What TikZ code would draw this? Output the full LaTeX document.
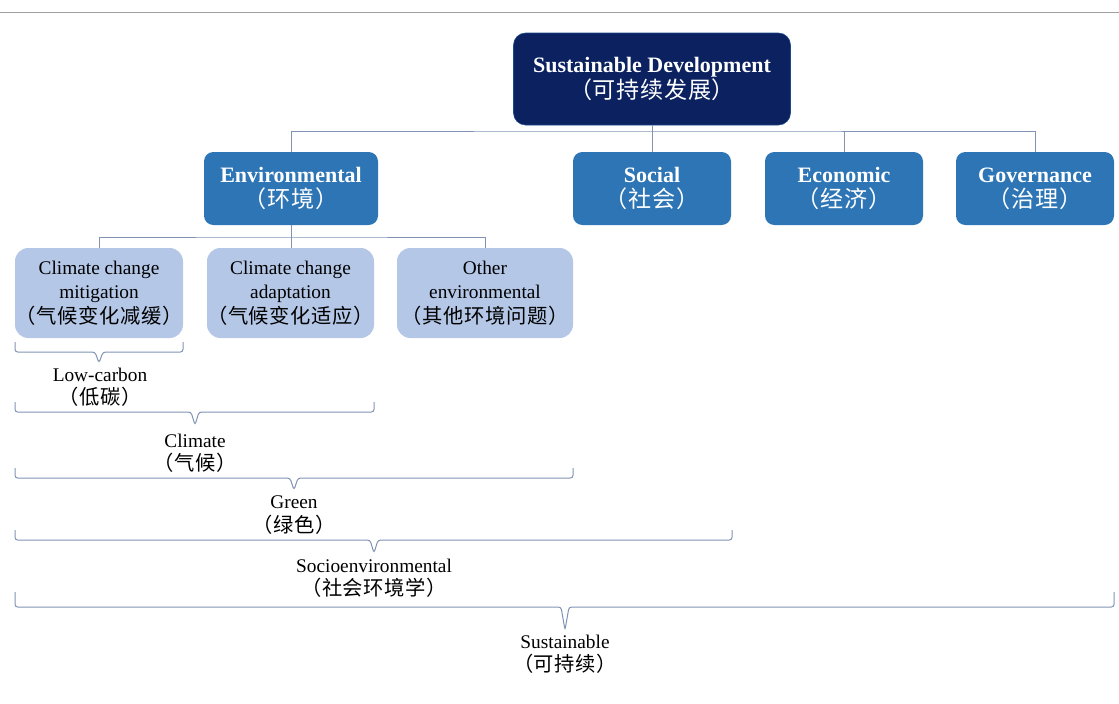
\documentclass[tikz,border=0pt]{standalone}
\usepackage{fontspec}
\setmainfont{Liberation Serif}
\newfontfamily\cjk[Scale=1.05, LetterSpace=3]{Noto Sans CJK SC}
\usetikzlibrary{positioning}

\definecolor{navy}{HTML}{0B2160}
\definecolor{midblue}{HTML}{2E75B6}
\definecolor{paleblue}{HTML}{B4C7E7}
\definecolor{linkgray}{HTML}{8093B3}

\tikzset{
	rootbox/.style={draw=midblue!50!navy, fill=navy, text=white, rounded corners=9pt,
		minimum width=207.75pt, minimum height=69pt, align=center,
		font=\fontsize{16.5}{19}\selectfont\bfseries},
	dimbox/.style={fill=midblue, text=white, rounded corners=7pt, minimum height=54.75pt,
		align=center, font=\fontsize{16.5}{19}\selectfont\bfseries},
	subbox/.style={fill=paleblue, rounded corners=10pt, minimum height=67.5pt,
		inner xsep=0pt, align=center, font=\fontsize{14.5}{18.5}\selectfont},
	link/.style={draw=linkgray, line width=0.75pt},
	brline/.style={draw=linkgray, line width=0.75pt, rounded corners=2pt},
	spanlabel/.style={align=center, font=\fontsize{14.5}{17.5}\selectfont},
}

\begin{document}
\begin{tikzpicture}[x=0.75pt, y=-0.75pt]
	\useasboundingbox (0,0) rectangle (1119,703);
	\draw[gray!75, line width=0.75pt] (0,12) -- (1119,12);

	\node[rootbox] (root) at (652,79) {Sustainable Development\\{\cjk\mdseries （可持续发展）}};

	\node[dimbox, minimum width=130.5pt] (env) at (291,188.5) {Environmental\\{\cjk\mdseries （环境）}};
	\node[dimbox, minimum width=118.5pt] (social) at (652,188.5) {Social\\{\cjk\mdseries （社会）}};
	\node[dimbox, minimum width=118.5pt] (econ) at (844,188.5) {Economic\\{\cjk\mdseries （经济）}};
	\node[dimbox, minimum width=118.5pt] (gov) at (1035,188.5) {Governance\\{\cjk\mdseries （治理）}};

	\node[subbox, minimum width=126pt] (mitig) at (99,293) {Climate change\\mitigation\\{\cjk （气候变化减缓）}};
	\node[subbox, minimum width=125.25pt] (adapt) at (290.5,293) {Climate change\\adaptation\\{\cjk （气候变化适应）}};
	\node[subbox, minimum width=132pt] (other) at (485,293) {Other\\environmental\\{\cjk （其他环境问题）}};

	\coordinate (bar) at (652,131);
	\coordinate (envbar) at (291,237);
	\draw[link] (root.south) -- (social.north);
	\draw[link] (env.north) |- (bar) -| (gov.north);
	\draw[link] (econ.north) -- (econ.north |- bar);
	\draw[link] (mitig.north) |- (envbar) -| (other.north);
	\draw[link] (env.south) -- (env.south |- adapt.north);

	% spans
	\draw[brline] (15,342) -- (15,352) -- (95,352) -- (99,363) -- (103,352) -- (183,352) -- (183,342);
	\node[spanlabel] (lowcarbon) at (100,387) {Low-carbon\\{\cjk （低碳）}};

	\draw[brline] (15,402) -- (15,412) -- (191,412) -- (195,425) -- (199,412) -- (374,412) -- (374,402);
	\node[spanlabel] (climate) at (195,453) {Climate\\{\cjk （气候）}};

	\draw[brline] (15,468) -- (15,478) -- (290,478) -- (294,490) -- (298,478) -- (573,478) -- (573,468);
	\node[spanlabel] (green) at (294,515) {Green\\{\cjk （绿色）}};

	\draw[brline] (15,530) -- (15,540) -- (370,540) -- (374,553) -- (378,540) -- (732,540) -- (732,530);
	\node[spanlabel] (socio) at (374,578) {Socioenvironmental\\{\cjk （社会环境学）}};

	\draw[brline] (15,592) -- (15,607) -- (561,607) -- (565,630) -- (569,607) -- (1114,607) -- (1114,592);
	\node[spanlabel] (sustain) at (565,654) {Sustainable\\{\cjk （可持续）}};
\end{tikzpicture}
\end{document}
